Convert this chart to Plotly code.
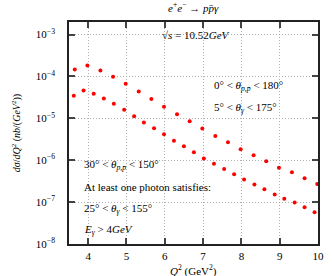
import plotly.graph_objects as go

# Upper series (0° < θ_pp̄ < 180°, 5° < θγ < 175°)
q2_all = [3.65, 3.98, 4.32, 4.65, 4.98, 5.32, 5.65, 5.98, 6.32, 6.65,
          6.98, 7.32, 7.65, 7.98, 8.32, 8.65, 8.98, 9.32, 9.65, 9.98]
xs_all = [1.47e-4, 1.83e-4, 1.39e-4, 9.8e-5, 6.7e-5, 4.4e-5, 2.88e-5, 1.90e-5, 1.26e-5, 8.5e-6,
          5.7e-6, 3.8e-6, 2.69e-6, 1.83e-6, 1.32e-6, 9.5e-7, 6.6e-7, 5.2e-7, 3.7e-7, 2.7e-7]

# Lower series (restricted angular acceptance)
q2_cut = [3.625, 3.88, 4.145, 4.41, 4.67, 4.94, 5.20, 5.455, 5.72, 5.98,
          6.24, 6.50, 6.76, 7.02, 7.285, 7.55, 7.81, 8.07, 8.34, 8.60,
          8.87, 9.12, 9.39, 9.65, 9.91]
xs_cut = [3.47e-5, 4.64e-5, 3.87e-5, 2.99e-5, 2.24e-5, 1.61e-5, 1.12e-5, 8.0e-6, 5.8e-6, 4.16e-6,
          2.94e-6, 2.15e-6, 1.55e-6, 1.10e-6, 8.2e-7, 6.2e-7, 4.64e-7, 3.47e-7, 2.64e-7, 2.04e-7,
          1.52e-7, 1.20e-7, 9.8e-8, 7.5e-8, 5.7e-8]

y_tickvals = [1e-8, 1e-7, 1e-6, 1e-5, 1e-4, 1e-3]
y_ticktext = ["10<sup>−8</sup>", "10<sup>−7</sup>", "10<sup>−6</sup>",
              "10<sup>−5</sup>", "10<sup>−4</sup>", "10<sup>−3</sup>"]
x_tickvals = [4, 5, 6, 7, 8, 9, 10]

FONT = "Liberation Serif"

fig = go.Figure()
for xv, yv in [(q2_all, xs_all), (q2_cut, xs_cut)]:
    fig.add_trace(go.Scatter(x=xv, y=yv, mode="markers",
                             marker=dict(color="#ff0000", size=4, symbol="circle"),
                             showlegend=False))

axis_common = dict(showline=True, linecolor="#222", linewidth=1.5, mirror="ticks",
                   ticks="inside", ticklen=6, tickwidth=2, tickcolor="#444",
                   showgrid=True, gridcolor="#b0b0b0", griddash="1px,2px", gridwidth=1,
                   zeroline=False, tickfont=dict(family=FONT, size=11, color="#000"))

fig.update_xaxes(range=[3.5, 10], tickvals=x_tickvals, ticklabelstandoff=1, **axis_common)
fig.update_yaxes(type="log", range=[-8, -2.699], tickvals=y_tickvals, ticktext=y_ticktext,
                 ticklabelstandoff=10, **axis_common)

def ann(text, x, y, xanchor="left", size=11, angle=0):
    fig.add_annotation(text=text, x=x, y=y, xref="paper", yref="paper",
                       xanchor=xanchor, yanchor="middle", showarrow=False,
                       textangle=angle, font=dict(family=FONT, size=size, color="#000"))

ann("<i>e</i><sup>+</sup><i>e</i><sup>−</sup> → <i>pp̄γ</i>", 0.5, 1.068, "center")
ann("√<i>s</i> = 10.52<i>GeV</i>", 0.512, 0.941, "center")
ann("0° < <i>θ</i><sub><i>p,p̄</i></sub> < 180°", 0.573, 0.712)
ann("5° < <i>θ</i><sub><i>γ</i></sub> < 175°", 0.573, 0.613)
ann("30° < <i>θ</i><sub><i>p,p̄</i></sub> < 150°", 0.051, 0.356)
ann("At least one photon satisfies:", 0.051, 0.257)
ann("25° < <i>θ</i><sub><i>γ</i></sub> < 155°", 0.051, 0.158)
ann("<i>E</i><sub><i>γ</i></sub> > 4<i>GeV</i>", 0.051, 0.063)
ann("<i>Q</i><sup>2</sup> (GeV<sup>2</sup>)", 0.5, -0.118, "center")
ann("<i>dσ</i>/<i>dQ</i><sup>2</sup> (<i>nb</i>/(<i>GeV</i><sup>2</sup>))", -0.212, 0.5, "center", 10, -90)

fig.update_layout(width=332, height=276, margin=dict(l=69, r=8, t=22, b=32),
                  paper_bgcolor="white", plot_bgcolor="white",
                  font=dict(family=FONT, size=11, color="#000"))

fig.write_html("out.html", config={"displayModeBar": False},
               post_script="document.body.style.margin='0';document.body.style.padding='0';"
                           "document.body.style.overflow='hidden';")
